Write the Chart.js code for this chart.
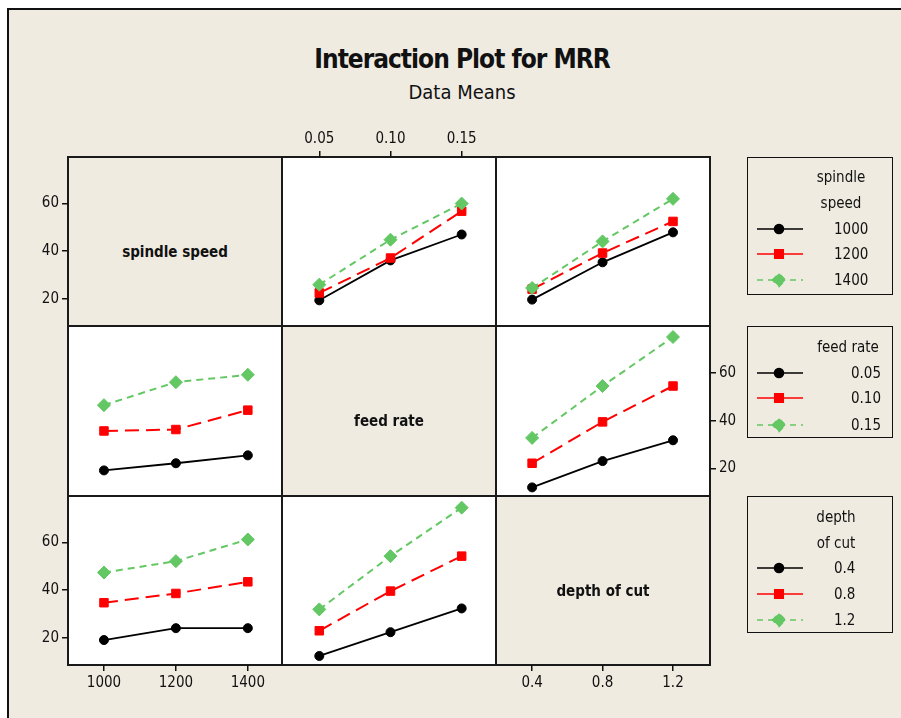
<!DOCTYPE html>
<html>
<head>
<meta charset="utf-8">
<script src="https://cdn.jsdelivr.net/npm/chart.js@4.4.0/dist/chart.umd.min.js"></script>
<style>
html, body { margin: 0; padding: 0; background: #fff; }
body { width: 901px; height: 718px; position: relative; overflow: hidden;
       font-family: "DejaVu Sans Condensed", "DejaVu Sans", sans-serif; color: #111; }
#frame { position: absolute; left: 7px; top: 8px; width: 1000px; height: 800px;
         background: #efebe1; border: 2px solid #111; }
.cell { position: absolute; box-sizing: border-box; border: 2px solid #1a1a1a; }
.cell.plot { background: #fff; }
.diag { position: absolute; font-weight: bold; font-size: 15px; text-align: center; }
canvas { position: absolute; }
.title { position: absolute; left: 262px; width: 400px; text-align: center; }
.legend { position: absolute; left: 747px; width: 146px; box-sizing: border-box;
          border: 1.5px solid #111; }
.lt { position: absolute; font-size: 15px; white-space: nowrap; transform: translate(-50%, -50%); }
.ll { position: absolute; font-size: 15px; white-space: nowrap; transform: translateY(-50%); }
.ls { position: absolute; }
</style>
</head>
<body>
<div id="frame"></div>
<div class="title" style="top:44px;font-size:26px;font-weight:bold;letter-spacing:-1px;">Interaction Plot for MRR</div>
<div class="title" style="top:80px;font-size:20px;">Data Means</div>
<div id="root"></div>
<script>
// factor levels and tick labels
const spindleLevels = [1000, 1200, 1400];
const feedLevels = [0.05, 0.10, 0.15];
const depthLevels = [0.4, 0.8, 1.2];
const spindleTickLabels = ['1000', '1200', '1400'];
const feedTickLabels = ['0.05', '0.10', '0.15'];
const depthTickLabels = ['0.4', '0.8', '1.2'];
const mrrTicks = [20, 40, 60];

// MRR means: rows = trace factor level, cols = x factor level
const spindleVsFeed  = [[19.3, 36.1, 47.0], [22.4, 37.1, 56.8], [25.9, 44.8, 60.0]];
const spindleVsDepth = [[19.6, 35.3, 47.9], [24.0, 39.2, 52.5], [24.5, 44.1, 62.0]];
const feedVsSpindle  = [[19.2, 22.2, 25.5], [35.7, 36.3, 44.4], [46.5, 56.1, 59.2]];
const feedVsDepth    = [[12.1, 23.1, 31.8], [22.2, 39.5, 54.5], [32.8, 54.5, 75.0]];
const depthVsSpindle = [[19.0, 24.0, 24.0], [34.7, 38.6, 43.5], [47.4, 52.2, 61.3]];
const depthVsFeed    = [[12.3, 22.3, 32.3], [22.9, 39.6, 54.3], [31.9, 54.3, 74.7]];

const factors = [
  { name: 'spindle speed', title: ['spindle', 'speed'], levels: spindleLevels, labels: spindleTickLabels, min: 900, max: 1495 },
  { name: 'feed rate', title: ['feed rate'], levels: feedLevels, labels: feedTickLabels, min: 0.0238, max: 0.1741 },
  { name: 'depth of cut', title: ['depth', 'of cut'], levels: depthLevels, labels: depthTickLabels, min: 0.195, max: 1.41 }
];
const panels = {
  '0,1': spindleVsFeed, '0,2': spindleVsDepth,
  '1,0': feedVsSpindle, '1,2': feedVsDepth,
  '2,0': depthVsSpindle, '2,1': depthVsFeed
};
const axesOn = {
  '0,0': { y: 'left' }, '2,0': { y: 'left', x: 'bottom' },
  '1,2': { y: 'right' }, '0,1': { x: 'top' }, '2,2': { x: 'bottom' }
};
const traceStyles = [
  { color: '#000000', point: 'circle', r: 4.5, dash: [], width: 1.8 },
  { color: '#ff0000', point: 'rect', r: 6, dash: [14, 7], width: 2 },
  { color: '#63c763', point: 'rectRot', r: 6.5, dash: [7, 5], width: 2 }
];

const colX = [68, 282, 496, 710];
const rowY = [157, 326, 496, 665];
const M = 40;
const yMin = 8.5, yMax = 79.6;
const tickFont = { family: '"DejaVu Sans Condensed", "DejaVu Sans", sans-serif', size: 15 };
const root = document.getElementById('root');

function axisOpts(pos, min, max, ticks, labels, isX) {
  return {
    type: 'linear', position: pos || (isX ? 'bottom' : 'left'), display: !!pos,
    min: min, max: max,
    afterBuildTicks: s => { s.ticks = ticks.map(v => ({ value: v })); },
    afterFit: s => { if (!pos) return; if (isX) s.height = M; else s.width = M; },
    ticks: { callback: (v, i) => labels[i], font: tickFont, color: '#111', padding: 3,
             maxRotation: 0, autoSkip: false },
    grid: { drawOnChartArea: false, drawTicks: true, tickLength: 6, color: '#111', lineWidth: 1.5 },
    border: { display: false }
  };
}

for (let i = 0; i < 3; i++) {
  for (let j = 0; j < 3; j++) {
    const x0 = colX[j], y0 = rowY[i], w = colX[j + 1] - x0, h = rowY[i + 1] - y0;
    const cell = document.createElement('div');
    cell.className = 'cell' + (i === j ? '' : ' plot');
    Object.assign(cell.style, { left: (x0 - 1) + 'px', top: (y0 - 1) + 'px', width: (w + 2) + 'px', height: (h + 2) + 'px' });
    root.appendChild(cell);
    if (i === j) {
      const lab = document.createElement('div');
      lab.className = 'diag';
      lab.textContent = factors[i].name;
      Object.assign(lab.style, { left: x0 + 'px', width: w + 'px', top: (y0 + h / 2 + 1) + 'px' });
      root.appendChild(lab);
    }
    const key = i + ',' + j;
    const ax = axesOn[key] || {};
    const values = panels[key];
    if (!values && !ax.x && !ax.y) continue;

    const cv = document.createElement('canvas');
    cv.width = w + 2 * M; cv.height = h + 2 * M;
    Object.assign(cv.style, { left: (x0 - M) + 'px', top: (y0 - M) + 'px', width: cv.width + 'px', height: cv.height + 'px' });
    root.appendChild(cv);

    const xf = factors[j];
    const datasets = values ? values.map((row, k) => ({
      label: factors[i].labels[k],
      data: row.map((v, n) => ({ x: xf.levels[n], y: v })),
      borderColor: traceStyles[k].color, backgroundColor: traceStyles[k].color,
      borderWidth: traceStyles[k].width, borderDash: traceStyles[k].dash,
      pointStyle: traceStyles[k].point, pointRadius: traceStyles[k].r,
      pointBorderWidth: 1, pointBorderColor: traceStyles[k].color,
      pointBackgroundColor: traceStyles[k].color,
      tension: 0, order: 2 - k
    })) : [];

    new Chart(cv, {
      type: 'line',
      data: { datasets: datasets },
      options: {
        responsive: false, animation: false, devicePixelRatio: 1,
        layout: { padding: {
          left: ax.y === 'left' ? 0 : M, right: ax.y === 'right' ? 0 : M,
          top: ax.x === 'top' ? 0 : M, bottom: ax.x === 'bottom' ? 0 : M } },
        scales: {
          x: axisOpts(ax.x, xf.min, xf.max, xf.levels, xf.labels, true),
          y: axisOpts(ax.y, yMin, yMax, mrrTicks, mrrTicks.map(String), false)
        },
        plugins: { legend: { display: false }, tooltip: { enabled: false } }
      }
    });
  }
}

// legend boxes, one per factor
const legendBoxes = [
  { top: 157, height: 138, titleX: 841, titleY: [177, 203], entryY: [229, 254, 280], labelX: 834 },
  { top: 326, height: 112, titleX: 848, titleY: [347], entryY: [373, 398, 425], labelX: 851 },
  { top: 496, height: 137, titleX: 836, titleY: [517, 543], entryY: [568, 594, 620], labelX: 834 }
];
legendBoxes.forEach((b, f) => {
  const box = document.createElement('div');
  box.className = 'legend';
  Object.assign(box.style, { top: b.top + 'px', height: b.height + 'px' });
  root.appendChild(box);
  factors[f].title.forEach((t, n) => {
    const d = document.createElement('div');
    d.className = 'lt'; d.textContent = t;
    Object.assign(d.style, { left: b.titleX + 'px', top: b.titleY[n] + 'px' });
    root.appendChild(d);
  });
  factors[f].labels.forEach((t, k) => {
    const st = traceStyles[k];
    const y = b.entryY[k];
    const d = document.createElement('div');
    d.className = 'll'; d.textContent = t;
    Object.assign(d.style, { left: b.labelX + 'px', top: y + 'px' });
    root.appendChild(d);
    const c = document.createElement('canvas');
    c.width = 50; c.height = 16; c.className = 'ls';
    Object.assign(c.style, { left: '755px', top: (y - 8) + 'px' });
    root.appendChild(c);
    const g = c.getContext('2d');
    g.strokeStyle = st.color; g.fillStyle = st.color; g.lineWidth = 1.6;
    g.setLineDash(k === 2 ? [6, 5] : []);
    g.beginPath(); g.moveTo(2, 8); g.lineTo(48, 8); g.stroke();
    Chart.helpers.drawPoint(g, { pointStyle: st.point, radius: st.r, borderWidth: 1 }, 24, 8);
    g.fill();
  });
});
</script>
</body>
</html>
